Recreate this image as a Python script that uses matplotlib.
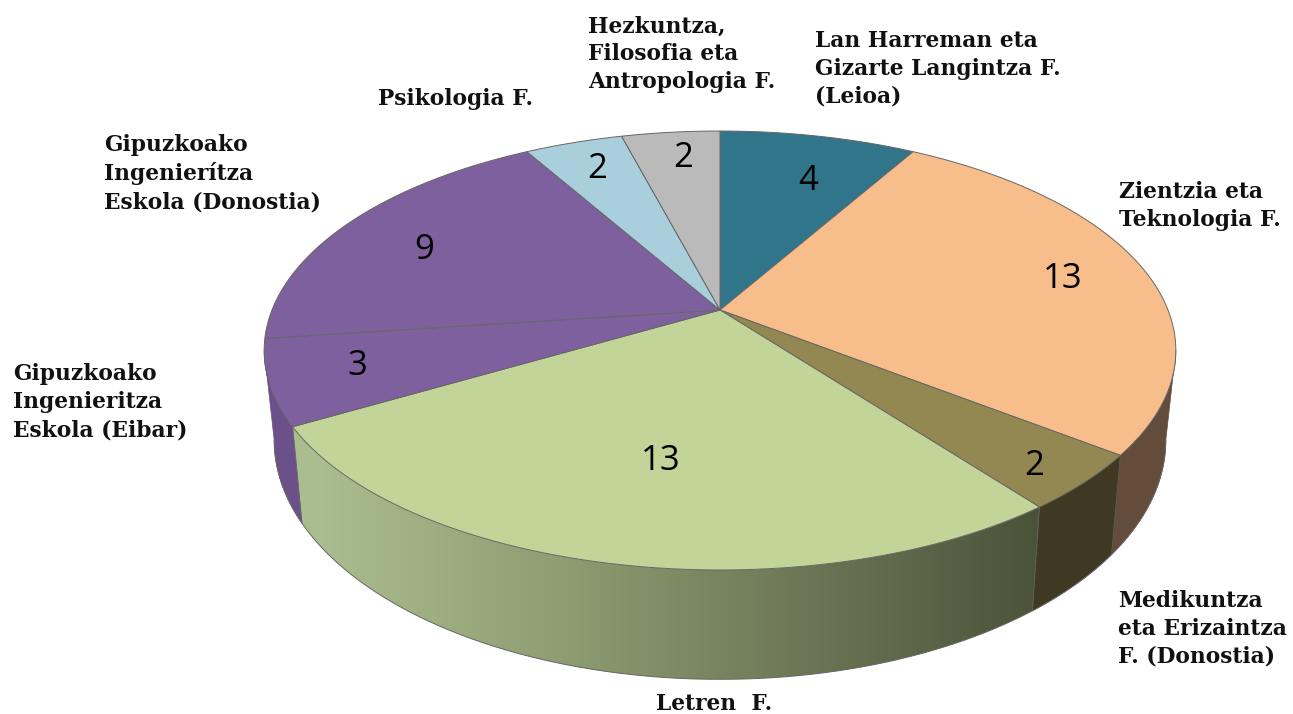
import numpy as np
import matplotlib
matplotlib.use("Agg")
import matplotlib.pyplot as plt
from matplotlib.colors import LinearSegmentedColormap
from matplotlib.patches import Polygon

# ---- data (clockwise from 12 o'clock) ----
categories = ["Lan Harreman eta\nGizarte Langintza F.\n(Leioa)",
              "Zientzia eta\nTeknologia F.",
              "Medikuntza\neta Erizaintza\nF. (Donostia)",
              "Letren  F.",
              "Gipuzkoako\nIngenieritza\nEskola (Eibar)",
              "Gipuzkoako\nIngenierítza\nEskola (Donostia)",
              "Psikologia F.",
              "Hezkuntza,\nFilosofia eta\nAntropologia F."]
values = [4, 13, 2, 13, 3, 9, 2, 2]

# ---- style ----
top_colors = ["#31758a", "#f7be8c", "#938852", "#c2d498",
              "#7f609e", "#7f609e", "#a9cfdc", "#bababa"]
wall_colors = ["#2a5f70", "#634c3a", "#3f3822", None,
               "#6c5089", "#6c5089", "#8aa9b3", "#979797"]
green_cmap = LinearSegmentedColormap.from_list("wall", ["#aabd8e", "#8e9d72", "#6d7757", "#4a5338"])

cat_pos = [(815, 103), (1119, 226), (1118, 663), (656, 710),
           (13, 436), (104, 208), (378, 105), (588, 88)]
val_pos = [(808, 181), (1063, 279), (1034, 466), (661, 461),
           (357, 366), (424, 250), (597, 169), (683, 158)]

CX, CY = 720, 310
A, B, K = 448, 212, 0.1845
T_RIGHT = np.arccos(-K)            # angle where the outline is widest on the right
T_LEFT = 2 * np.pi - T_RIGHT       # and on the left


def top_pt(theta, r=1.0):
    x, y = r * np.sin(theta), r * np.cos(theta)
    d = 1 + K * y
    return A * x / d, B * y / d


def rim(theta):
    X, Y = top_pt(theta)
    return np.column_stack([CX + X, CY - Y])


def base(theta):
    X, Y = top_pt(theta)
    return np.column_stack([CX + 0.978 * X, CY - (1.09 * Y - 86)])


fig = plt.figure(figsize=(12.93, 7.14), dpi=100)
ax = fig.add_axes([0, 0, 1, 1])

vals = np.asarray(values, dtype=float)
edges = np.concatenate([[0], np.cumsum(vals)]) / vals.sum() * 2 * np.pi

# side walls: only the front part between the widest points
for i in range(len(vals)):
    t0, t1 = max(edges[i], T_RIGHT), min(edges[i + 1], T_LEFT)
    if t1 <= t0:
        continue
    ts = np.linspace(t0, t1, 200)
    poly = np.vstack([rim(ts), base(ts)[::-1]])
    if wall_colors[i] is None:
        patch = Polygon(poly, closed=True, facecolor="none", edgecolor="none", zorder=1)
        ax.add_patch(patch)
        xr = np.linspace(0, 1, 256)[None, :]
        im = ax.imshow(xr, cmap=green_cmap, extent=(poly[:, 0].min() + 30, poly[:, 0].max(), poly[:, 1].max(),
                                                    poly[:, 1].min()), aspect="auto", zorder=1, vmin=0, vmax=1)
        im.set_clip_path(patch)
        im2 = ax.imshow(np.zeros((1, 1)), cmap=green_cmap, extent=(poly[:, 0].min() - 2, poly[:, 0].min() + 30,
                                                                  poly[:, 1].max(), poly[:, 1].min()),
                        aspect="auto", zorder=1, vmin=0, vmax=1)
        im2.set_clip_path(patch)
    else:
        ax.add_patch(Polygon(poly, closed=True, facecolor=wall_colors[i], edgecolor=wall_colors[i], lw=0.5, zorder=1))

ax.set_xlim(0, 1293)
ax.set_ylim(714, 0)
ax.axis("off")

# lower outline of the wall
tb = np.linspace(T_RIGHT, T_LEFT, 300)
b = base(tb)
ax.plot(b[:, 0], b[:, 1], color="#666666", lw=0.7, zorder=2)

# dividers on the wall
for e in edges[1:]:
    if T_RIGHT < e < T_LEFT:
        r0, b0 = rim(np.array([e]))[0], base(np.array([e]))[0]
        ax.plot([r0[0], b0[0]], [r0[1], b0[1]], color="#666666", lw=0.7, alpha=0.7, zorder=2)

# top faces
for i in range(len(vals)):
    ts = np.linspace(edges[i], edges[i + 1], 120)
    pts = np.vstack([[CX, CY], rim(ts)])
    ax.add_patch(Polygon(pts, closed=True, facecolor=top_colors[i], edgecolor="#666666", lw=0.7, zorder=3))

for v, (x, y) in zip(values, val_pos):
    ax.text(x, y, str(v), ha="center", va="center", fontsize=25, family="Open Sans",
            color="black", zorder=5)

for name, (x, y) in zip(categories, cat_pos):
    ax.text(x, y, name, ha="left", va="baseline", fontsize=15.7, family="DejaVu Serif",
            fontweight="bold", color="#111111", linespacing=1.34, zorder=5)

fig.savefig("out.png", dpi=100, facecolor="white")
